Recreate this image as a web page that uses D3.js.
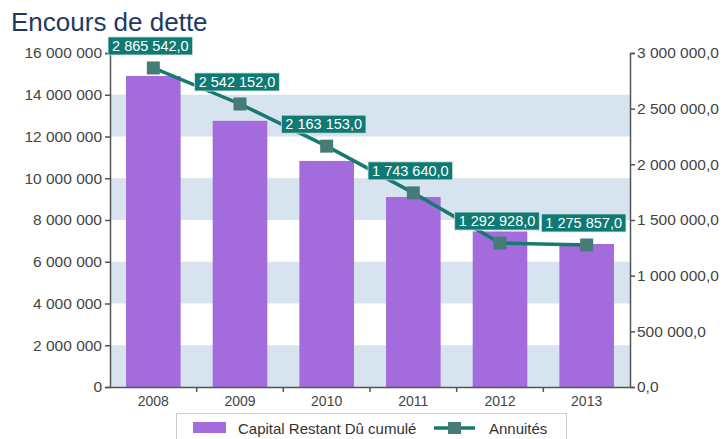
<!DOCTYPE html>
<html>
<head>
<meta charset="utf-8">
<script src="https://cdn.jsdelivr.net/npm/d3@7"></script>
<style>
  body { margin: 0; background: #fff; }
  svg text { font-family: "Liberation Sans", Arial, sans-serif; }
</style>
</head>
<body>
<div id="chart"></div>
<script>
// data
var years = ['2008', '2009', '2010', '2011', '2012', '2013'];
var capital = [14900000, 12750000, 10830000, 9100000, 7450000, 6850000];
var annuites = [2865542, 2542152, 2163153, 1743640, 1292928, 1275857];
var leftTicks = [0, 2000000, 4000000, 6000000, 8000000, 10000000, 12000000, 14000000, 16000000];
var rightTicks = [0, 500000, 1000000, 1500000, 2000000, 2500000, 3000000];

var W = 724, H = 439;
var x0 = 110, x1 = 630, yTop = 53, yBot = 387;

var svg = d3.select('#chart')
  .append('svg')
  .attr('width', W)
  .attr('height', H);

var fmtInt = function(v) {
  return d3.format(',')(v).replace(/,/g, ' ');
};
var fmtDec = function(v) {
  return d3.format(',.1f')(v).replace(/,/g, ' ').replace('.', ',');
};

var x = d3.scaleBand()
  .domain(years)
  .range([x0, x1])
  .paddingInner(0.37)
  .paddingOuter(0.185);

var xb = d3.scaleBand().domain(years).range([x0, x1]);

var y = d3.scaleLinear().domain([0, 16000000]).range([yBot, yTop]);
var y2 = d3.scaleLinear().domain([0, 3000000]).range([yBot, yTop]);

// background bands
var bands = [[0, 2000000], [4000000, 6000000], [8000000, 10000000], [12000000, 14000000]];
svg.append('g').selectAll('rect')
  .data(bands)
  .enter().append('rect')
  .attr('x', x0)
  .attr('width', x1 - x0)
  .attr('y', d => y(d[1]))
  .attr('height', d => y(d[0]) - y(d[1]))
  .attr('fill', '#d7e3ef');

// title
svg.append('text')
  .attr('x', 11)
  .attr('y', 31)
  .style('font-size', '26px')
  .style('fill', '#1e3a64')
  .text('Encours de dette');

// bars
svg.append('g').selectAll('rect')
  .data(capital)
  .enter().append('rect')
  .attr('x', (d, i) => x(years[i]))
  .attr('width', x.bandwidth())
  .attr('y', d => y(d))
  .attr('height', d => yBot - y(d))
  .attr('fill', '#a36bdb');

// axes
var leftAxis = svg.append('g')
  .attr('transform', 'translate(' + x0 + ',0)')
  .call(d3.axisLeft(y).tickValues(leftTicks).tickFormat(fmtInt).tickSize(5).tickPadding(3));

var rightAxis = svg.append('g')
  .attr('transform', 'translate(' + x1 + ',0)')
  .call(d3.axisRight(y2).tickValues(rightTicks).tickFormat(fmtDec).tickSize(5).tickPadding(2));

var bottomAxis = svg.append('g')
  .attr('transform', 'translate(0,' + yBot + ')')
  .call(d3.axisBottom(xb).tickSize(0).tickPadding(9));

// ticks between categories
svg.append('g').selectAll('line')
  .data(years.slice(1))
  .enter().append('line')
  .attr('x1', d => xb(d))
  .attr('x2', d => xb(d))
  .attr('y1', yBot)
  .attr('y2', yBot + 5)
  .attr('stroke', '#555')
  .attr('stroke-width', 1.5);

[leftAxis, rightAxis, bottomAxis].forEach(function(a) {
  a.select('.domain').attr('stroke', '#555').attr('stroke-width', 1.5);
  a.selectAll('.tick line').attr('stroke', '#555').attr('stroke-width', 1.5);
  a.selectAll('text').style('fill', '#444').style('font-family', '"Liberation Sans", Arial, sans-serif');
});
leftAxis.selectAll('text').style('font-size', '15.5px');
rightAxis.selectAll('text').style('font-size', '15.5px');
bottomAxis.selectAll('text').style('font-size', '14px');

// line
var line = d3.line()
  .x((d, i) => xb(years[i]) + xb.bandwidth() / 2)
  .y(d => y2(d));

svg.append('path')
  .datum(annuites)
  .attr('fill', 'none')
  .attr('stroke', '#17796f')
  .attr('stroke-width', 3.5)
  .attr('d', line);

svg.append('g').selectAll('rect')
  .data(annuites)
  .enter().append('rect')
  .attr('x', (d, i) => xb(years[i]) + xb.bandwidth() / 2 - 6.5)
  .attr('y', d => y2(d) - 6.5)
  .attr('width', 13)
  .attr('height', 13)
  .attr('fill', '#457c78');

// value labels
var lab = svg.append('g').selectAll('g')
  .data(annuites)
  .enter().append('g')
  .attr('transform', (d, i) => 'translate(' + (xb(years[i]) + xb.bandwidth() / 2 - 3) + ',' + (y2(d) - 13) + ')');

lab.append('text')
  .attr('text-anchor', 'middle')
  .attr('y', -4)
  .style('font-size', '14.5px')
  .style('fill', '#fff')
  .text(d => fmtDec(d))
  .each(function() {
    var b = this.getBBox();
    d3.select(this.parentNode).insert('rect', 'text')
      .attr('x', b.x - 4)
      .attr('y', -18)
      .attr('width', b.width + 8)
      .attr('height', 18)
      .attr('fill', '#0f7a73')
      .attr('stroke', '#cfe3e1')
      .attr('stroke-width', 0.8);
  });

// legend
var lg = svg.append('g');
lg.append('rect')
  .attr('x', 176.5)
  .attr('y', 413.5)
  .attr('width', 390)
  .attr('height', 40)
  .attr('fill', '#fff')
  .attr('stroke', '#cccccc');

lg.append('rect')
  .attr('x', 193)
  .attr('y', 422)
  .attr('width', 33)
  .attr('height', 11)
  .attr('fill', '#a36bdb');

lg.append('text')
  .attr('x', 238)
  .attr('y', 434)
  .style('font-size', '15px')
  .style('fill', '#333')
  .text('Capital Restant Dû cumulé');

lg.append('line')
  .attr('x1', 434)
  .attr('x2', 475)
  .attr('y1', 428)
  .attr('y2', 428)
  .attr('stroke', '#17796f')
  .attr('stroke-width', 3.5);

lg.append('rect')
  .attr('x', 448)
  .attr('y', 422)
  .attr('width', 13)
  .attr('height', 12)
  .attr('fill', '#457c78');

lg.append('text')
  .attr('x', 489)
  .attr('y', 434)
  .style('font-size', '15px')
  .style('fill', '#333')
  .text('Annuités');
</script>
</body>
</html>
